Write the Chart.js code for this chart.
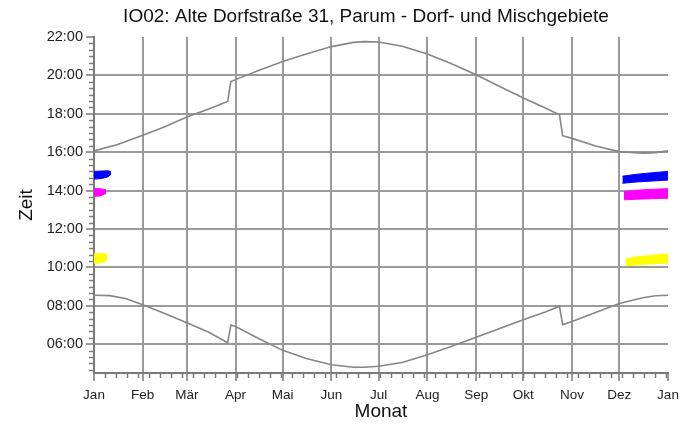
<!DOCTYPE html>
<html>
<head>
<meta charset="utf-8">
<script src="https://cdn.jsdelivr.net/npm/chart.js@4"></script>
<style>
  body { margin: 0; background: #fff; }
  #wrap { width: 700px; height: 428px; }
</style>
</head>
<body>
<div id="wrap"><canvas id="chart"></canvas></div>
<script>
// month ticks (day of year) and their labels
const monthDays = [0, 31, 59, 90, 120, 151, 181, 212, 243, 273, 304, 334, 365];
const monthLabels = ['Jan', 'Feb', 'Mär', 'Apr', 'Mai', 'Jun', 'Jul', 'Aug', 'Sep', 'Okt', 'Nov', 'Dez', 'Jan'];
const hourTicks = [6, 8, 10, 12, 14, 16, 18, 20, 22];

// sunset (upper curve), hours
const sunsetDays = [0, 15, 31, 45, 59, 73, 85, 87, 90, 105, 120, 135, 151, 165, 172, 181, 196, 212, 227, 243, 258, 273, 287, 296, 298, 304, 319, 334, 349, 357, 365];
const sunsetHours = [16.07, 16.40, 16.88, 17.33, 17.83, 18.25, 18.64, 19.68, 19.78, 20.27, 20.72, 21.12, 21.50, 21.72, 21.76, 21.74, 21.52, 21.12, 20.62, 20.03, 19.42, 18.82, 18.30, 17.95, 16.86, 16.72, 16.32, 16.03, 15.95, 15.98, 16.07];

// sunrise (lower curve), hours
const sunriseDays = [0, 10, 20, 31, 45, 59, 73, 85, 87, 90, 105, 120, 135, 151, 165, 172, 181, 196, 212, 227, 243, 258, 273, 287, 296, 298, 304, 319, 334, 349, 357, 365];
const sunriseHours = [8.55, 8.53, 8.38, 8.05, 7.60, 7.12, 6.62, 6.08, 7.00, 6.92, 6.28, 5.68, 5.25, 4.93, 4.80, 4.80, 4.85, 5.05, 5.45, 5.88, 6.36, 6.82, 7.27, 7.68, 7.98, 7.02, 7.18, 7.65, 8.12, 8.42, 8.52, 8.55];

// shadow periods (day, from, to)
const blueJanDays = [0, 5, 9, 10.8];
const blueJanFrom = [14.60, 14.63, 14.72, 14.85];
const blueJanTo = [15.00, 15.02, 15.03, 14.98];
const blueDecDays = [336, 345, 355, 365];
const blueDecFrom = [14.38, 14.45, 14.50, 14.55];
const blueDecTo = [14.75, 14.85, 14.93, 15.00];

const magentaJanDays = [0, 4, 7.6];
const magentaJanFrom = [13.70, 13.72, 13.85];
const magentaJanTo = [14.10, 14.10, 14.05];
const magentaDecDays = [337, 345, 355, 365];
const magentaDecFrom = [13.52, 13.55, 13.58, 13.60];
const magentaDecTo = [13.95, 14.02, 14.07, 14.10];

const yellowJanDays = [0, 5, 8.3];
const yellowJanFrom = [10.22, 10.25, 10.35];
const yellowJanTo = [10.70, 10.72, 10.70];
const yellowDecDays = [338, 348, 358, 365];
const yellowDecFrom = [10.08, 10.15, 10.20, 10.22];
const yellowDecTo = [10.45, 10.58, 10.66, 10.70];

const gridColor = '#9a9a9a';
const axisColor = '#7a7a7a';
const fontFamily = 'Liberation Sans, Arial, sans-serif';

function pts(days, vals) {
    return days.map((d, i) => ({ x: d, y: vals[i] }));
}

function line(days, vals, color, width) {
    return {
        data: pts(days, vals),
        borderColor: color,
        borderWidth: width,
        pointRadius: 0,
        tension: 0,
        fill: false
    };
}

function band(days, from, to, color) {
    return [
        line(days, from, color, 1),
        Object.assign(line(days, to, color, 1), { fill: '-1', backgroundColor: color })
    ];
}

// small ticks between the labelled ones
const minorTicks = {
    id: 'minorTicks',
    afterDraw(chart) {
        const { ctx, scales: { x, y } } = chart;
        ctx.save();
        ctx.strokeStyle = axisColor;
        ctx.lineWidth = 1.5;
        ctx.beginPath();
        for (let m = 280; m < 1320; m += 20) {
            if (m % 120 === 0) continue;
            const py = Math.round(y.getPixelForValue(m / 60)) + 0.5;
            ctx.moveTo(x.left - 5, py);
            ctx.lineTo(x.left, py);
        }
        for (let d = 7; d < 365; d += 7) {
            const px = Math.round(x.getPixelForValue(d)) + 0.5;
            ctx.moveTo(px, y.bottom);
            ctx.lineTo(px, y.bottom + 5);
        }
        ctx.stroke();
        ctx.restore();
    }
};

// the original title sits a bit right of the canvas centre
const shiftTitle = {
    id: 'shiftTitle',
    afterLayout(chart) {
        if (chart.titleBlock) chart.titleBlock.left = 64;
    }
};

const datasets = [
    ...band(blueJanDays, blueJanFrom, blueJanTo, '#0000ff'),
    ...band(blueDecDays, blueDecFrom, blueDecTo, '#0000ff'),
    ...band(magentaJanDays, magentaJanFrom, magentaJanTo, '#ff00ff'),
    ...band(magentaDecDays, magentaDecFrom, magentaDecTo, '#ff00ff'),
    ...band(yellowJanDays, yellowJanFrom, yellowJanTo, '#ffff00'),
    ...band(yellowDecDays, yellowDecFrom, yellowDecTo, '#ffff00'),
    line(sunsetDays, sunsetHours, '#868686', 1.6),
    line(sunriseDays, sunriseHours, '#868686', 1.6)
];

new Chart('chart', {
    type: 'line',
    data: { datasets: datasets },
    plugins: [minorTicks, shiftTitle],
    options: {
        responsive: true,
        maintainAspectRatio: false,
        animation: false,
        layout: { padding: { left: 0, right: 32, top: 0, bottom: 0 } },
        plugins: {
            legend: { display: false },
            tooltip: { enabled: false },
            title: {
                display: true,
                text: 'IO02: Alte Dorfstraße 31, Parum - Dorf- und Mischgebiete',
                color: '#111',
                font: { family: fontFamily, size: 19, weight: 'normal' },
                padding: { top: 5, bottom: 9.2 }
            }
        },
        scales: {
            x: {
                type: 'linear',
                min: 0,
                max: 365,
                afterBuildTicks: s => { s.ticks = monthDays.map(v => ({ value: v })); },
                afterFit: s => { s.height = 55; },
                ticks: {
                    autoSkip: false,
                    maxRotation: 0,
                    color: '#222',
                    font: { family: fontFamily, size: 13.5 },
                    padding: 6,
                    callback: (v, i) => monthLabels[i]
                },
                grid: {
                    color: c => (c.tick && c.tick.value === 365) ? 'rgba(0,0,0,0)' : gridColor,
                    lineWidth: 2,
                    tickColor: axisColor,
                    tickLength: 8,
                    tickWidth: 1.5
                },
                border: { display: true, color: axisColor, width: 2 },
                title: {
                    display: true,
                    text: 'Monat',
                    color: '#111',
                    font: { family: fontFamily, size: 19 },
                    padding: { top: 0, bottom: 4.6 }
                }
            },
            y: {
                type: 'linear',
                min: 4.5,
                max: 22,
                afterBuildTicks: s => { s.ticks = hourTicks.map(v => ({ value: v })); },
                afterFit: s => { s.width = 94; },
                ticks: {
                    color: '#222',
                    font: { family: fontFamily, size: 14.5 },
                    padding: 3,
                    callback: v => String(v).padStart(2, '0') + ':00'
                },
                grid: {
                    color: c => (c.tick && c.tick.value === 22) ? 'rgba(0,0,0,0)' : gridColor,
                    lineWidth: 2,
                    tickColor: axisColor,
                    tickLength: 8,
                    tickWidth: 1.5
                },
                border: { display: true, color: axisColor, width: 2 },
                title: {
                    display: true,
                    text: 'Zeit',
                    color: '#111',
                    font: { family: fontFamily, size: 19 },
                    padding: { top: 15.6, bottom: 0 }
                }
            }
        }
    }
});
</script>
</body>
</html>
